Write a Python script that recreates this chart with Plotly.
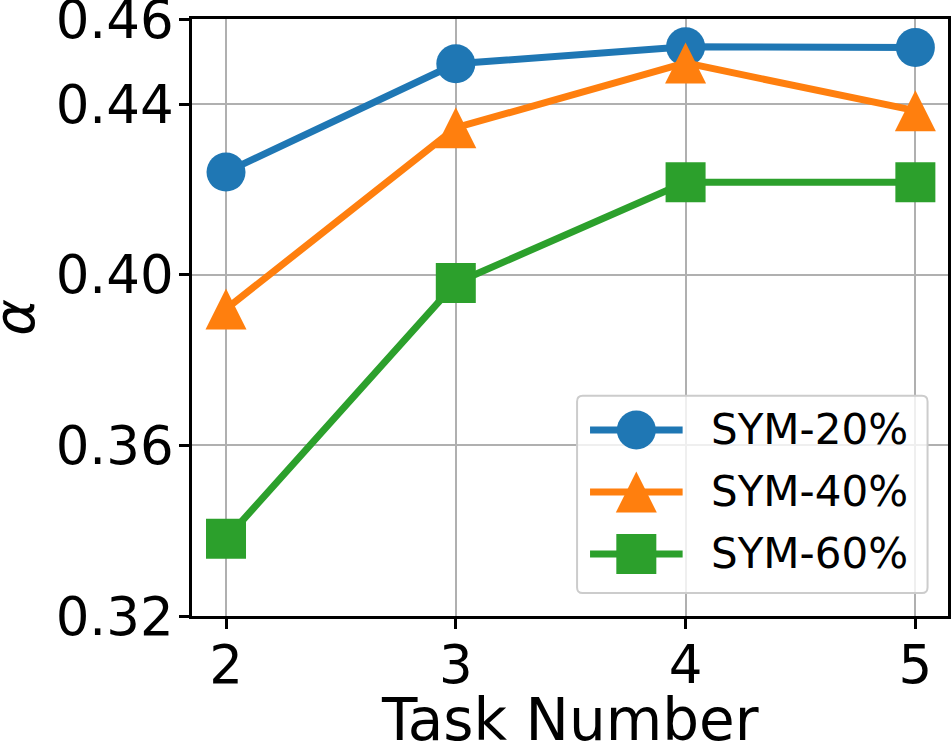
import plotly.graph_objects as go

# data
tasks = [2, 3, 4, 5]
sym20 = [0.4241, 0.4495, 0.4535, 0.4533]
sym40 = [0.3920, 0.4345, 0.4497, 0.4385]
sym60 = [0.3381, 0.3981, 0.4217, 0.4217]
series_names = ["SYM-20%", "SYM-40%", "SYM-60%"]
y_ticks = [0.32, 0.36, 0.40, 0.44, 0.46]
x_ticks = [2, 3, 4, 5]

FONT = "DejaVu Sans"
COLORS = ["#1f77b4", "#ff7f0e", "#2ca02c"]

# matplotlib-like markers; the triangle is an arrow head turned up and
# pushed back onto the point so it is as tall as it is wide
MARKERS = [
    dict(symbol="circle", size=39),
    dict(symbol="arrow-down", size=41, angle=180, standoff=20.5),
    dict(symbol="square", size=40),
]


def marker_style(idx):
    m = dict(MARKERS[idx])
    m["color"] = COLORS[idx]
    return m


fig = go.Figure()
for idx, (name, ys) in enumerate(zip(series_names, [sym20, sym40, sym60])):
    fig.add_trace(
        go.Scatter(
            x=tasks,
            y=ys,
            name=name,
            mode="lines+markers",
            line=dict(color=COLORS[idx], width=7),
            marker=marker_style(idx),
            showlegend=False,
        )
    )

# legend: plotly caps legend marker size, so the keys are drawn on a small
# helper axis covering the legend box (key line 0..2, marker at 1, rows top to bottom)
for row, name in enumerate(series_names):
    fig.add_trace(
        go.Scatter(
            x=[0, 1, 2],
            y=[row, row, row],
            xaxis="x2",
            yaxis="y2",
            mode="lines",
            line=dict(color=COLORS[row], width=7),
            hoverinfo="skip",
            showlegend=False,
        )
    )
    fig.add_trace(
        go.Scatter(
            x=[1],
            y=[row],
            xaxis="x2",
            yaxis="y2",
            mode="markers",
            marker=marker_style(row),
            hoverinfo="skip",
            showlegend=False,
        )
    )
    fig.add_annotation(
        x=2.58, y=row, xref="x2", yref="y2",
        text=name, showarrow=False, xanchor="left", yanchor="middle",
        font=dict(family=FONT, size=42, color="black"),
    )

# legend frame (rounded), in helper-axis units
bx0, bx1, by0, by1 = -0.28, 7.29, -0.55, 2.63
rx, ry = 0.12, 0.09
frame = (
    f"M{bx0 + rx},{by0} L{bx1 - rx},{by0} Q{bx1},{by0} {bx1},{by0 + ry} "
    f"L{bx1},{by1 - ry} Q{bx1},{by1} {bx1 - rx},{by1} "
    f"L{bx0 + rx},{by1} Q{bx0},{by1} {bx0},{by1 - ry} "
    f"L{bx0},{by0 + ry} Q{bx0},{by0} {bx0 + rx},{by0} Z"
)
fig.add_shape(
    type="path", path=frame, xref="x2", yref="y2", layer="below",
    fillcolor="rgba(255,255,255,0.8)", line=dict(color="#cccccc", width=2),
)

# axis titles as annotations (standoff is not honoured without automargin)
fig.add_annotation(
    x=0.5, y=-0.174, xref="paper", yref="paper",
    text="Task Number", showarrow=False, xanchor="center", yanchor="middle",
    font=dict(family=FONT, size=58, color="black"),
)
fig.add_annotation(
    x=-0.235, y=0.5, xref="paper", yref="paper", textangle=-90,
    text="<i>α</i>", showarrow=False, xanchor="center", yanchor="middle",
    font=dict(family=FONT, size=56, color="black"),
)

axis_common = dict(
    showline=True,
    linecolor="black",
    linewidth=2.5,
    mirror=True,
    ticks="outside",
    ticklen=10,
    tickwidth=2.5,
    tickcolor="black",
    showgrid=True,
    gridcolor="#b0b0b0",
    gridwidth=2,
    zeroline=False,
    automargin=False,
    ticklabeloverflow="allow",
    tickfont=dict(family=FONT, size=53, color="black"),
)

fig.update_layout(
    xaxis=dict(axis_common, range=[1.852, 5.142], tickvals=x_ticks, ticklabelstandoff=-9),
    yaxis=dict(
        axis_common,
        range=[0.32, 0.46],
        tickvals=y_ticks,
        tickformat=".2f",
        ticklabelstandoff=-5,
    ),
    xaxis2=dict(domain=[0.5069, 0.9754], range=[-0.32, 7.33], visible=False, anchor="y2"),
    yaxis2=dict(domain=[0.0343, 0.3729], range=[2.67, -0.59], visible=False, anchor="x2"),
    width=952,
    height=743,
    margin=dict(l=192, r=4, t=19, b=127),
    plot_bgcolor="rgba(0,0,0,0)",
    paper_bgcolor="white",
    font=dict(family=FONT, color="black"),
    showlegend=False,
)

# the page's default body margin would push the figure 8px off the window
fig.write_html(
    "out.html",
    config={"displayModeBar": False},
    post_script="document.body.style.margin = '0';",
)
